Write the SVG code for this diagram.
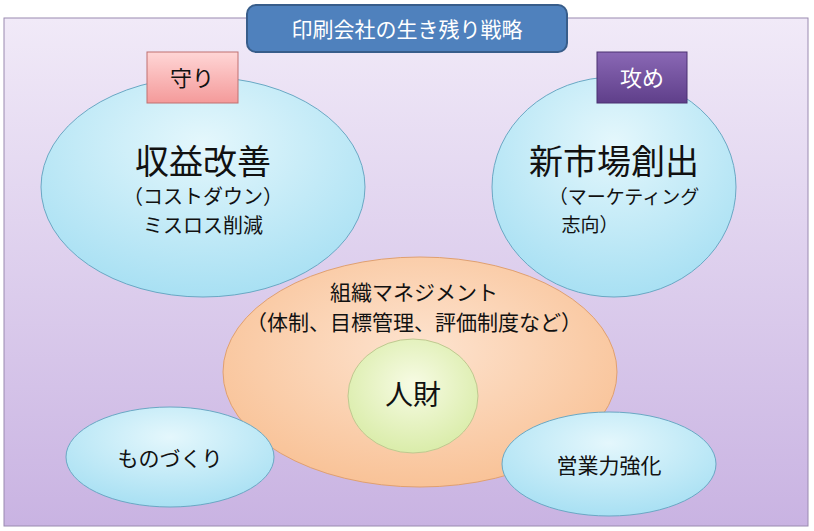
<svg xmlns="http://www.w3.org/2000/svg" width="814" height="531" viewBox="0 0 814 531">
<defs>
<linearGradient id="bg" x1="0" y1="0" x2="0" y2="1"><stop offset="0" stop-color="#f1eaf8"/><stop offset="1" stop-color="#c9b3e2"/></linearGradient>
<radialGradient id="blue" cx="0.5" cy="0.3" r="0.7"><stop offset="0" stop-color="#e4f7fc"/><stop offset="1" stop-color="#a8e0f3"/></radialGradient>
<radialGradient id="orange" cx="0.5" cy="0.4" r="0.7"><stop offset="0" stop-color="#fde3cf"/><stop offset="1" stop-color="#f8bd8e"/></radialGradient>
<radialGradient id="green" cx="0.5" cy="0.4" r="0.7"><stop offset="0" stop-color="#f7fbe4"/><stop offset="1" stop-color="#d5eaa0"/></radialGradient>
<linearGradient id="pink" x1="0" y1="0" x2="0" y2="1"><stop offset="0" stop-color="#ffd6d6"/><stop offset="1" stop-color="#f49a9a"/></linearGradient>
<linearGradient id="purple" x1="0" y1="0" x2="0" y2="1"><stop offset="0" stop-color="#8a68b5"/><stop offset="1" stop-color="#5f3f8a"/></linearGradient>
</defs>
<style>
text{font-family:"Noto Sans CJK JP","Noto Sans CJK SC",sans-serif;text-anchor:middle;fill:#111}
.e{stroke:#6aa8c4;stroke-width:1}
</style>
<rect x="4" y="18" width="804" height="508" fill="url(#bg)" stroke="#9a8ab0"/>
<g id="n-left"><ellipse class="e" cx="203" cy="187" rx="162" ry="110" fill="url(#blue)"/>
<text x="203" y="174" font-size="34">収益改善</text><text x="203" y="204" font-size="20">（コストダウン）</text><text x="203" y="233" font-size="20">ミスロス削減</text></g>
<g id="n-right"><ellipse class="e" cx="614" cy="187" rx="122" ry="110" fill="url(#blue)"/>
<text x="614" y="174" font-size="34">新市場創出</text><text x="624" y="204" font-size="19">（マーケティング</text><text x="590" y="232" font-size="19">志向）</text></g>
<g id="n-org"><ellipse cx="420" cy="372" rx="197" ry="115" fill="url(#orange)" stroke="#e0a070"/>
<text x="414" y="300" font-size="21">組織マネジメント</text><text x="414" y="330" font-size="21">（体制、目標管理、評価制度など）</text></g>
<g id="n-jinzai"><ellipse cx="413" cy="396" rx="65" ry="57" fill="url(#green)" stroke="#c0c890"/>
<text x="413" y="405" font-size="28">人財</text></g>
<g id="n-mono"><ellipse class="e" cx="170" cy="457" rx="104" ry="50" fill="url(#blue)"/><text x="170" y="466" font-size="21">ものづくり</text></g>
<g id="n-eigyo"><ellipse class="e" cx="609" cy="464" rx="107" ry="52" fill="url(#blue)"/><text x="609" y="473" font-size="21">営業力強化</text></g>
<g id="n-title"><rect x="247" y="5" width="320" height="47" rx="9" fill="#4f81bd" stroke="#385d8a" stroke-width="2"/><text x="407" y="37" font-size="21" style="fill:#fff">印刷会社の生き残り戦略</text></g>
<g id="n-mamori"><rect x="147" y="52" width="91" height="51" fill="url(#pink)" stroke="#c07070"/><text x="192" y="86" font-size="22">守り</text></g>
<g id="n-seme"><rect x="597" y="52" width="90" height="51" fill="url(#purple)" stroke="#4a3070"/><text x="642" y="86" font-size="22" style="fill:#fff">攻め</text></g>
<g id="connectors"/>
</svg>
